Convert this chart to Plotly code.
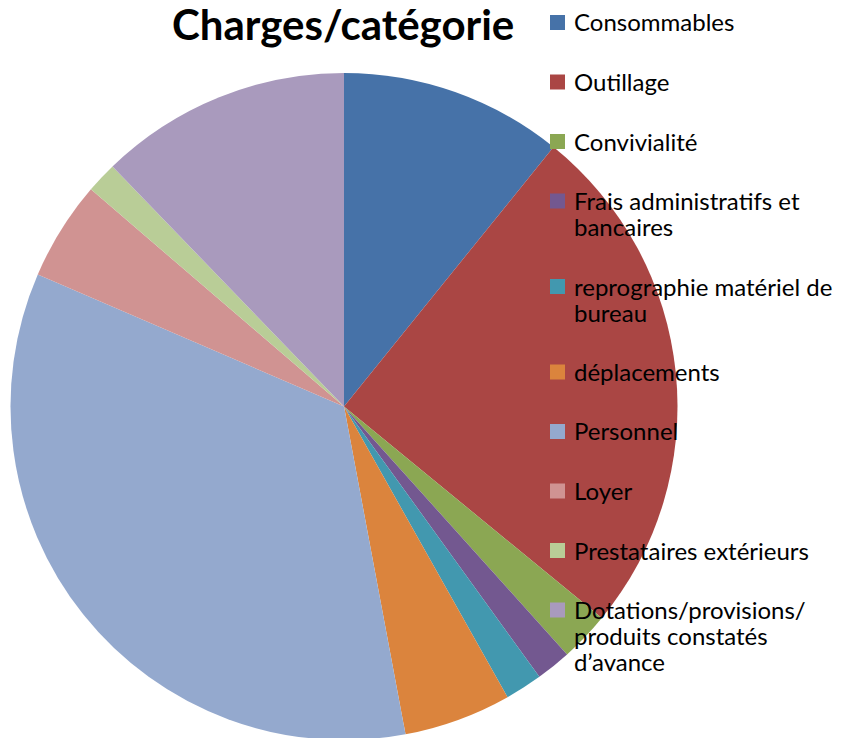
import plotly.graph_objects as go

W, H = 842, 738
OFF = 8  # default page body margin of the html file

labels = [
    "Consommables",
    "Outillage",
    "Convivialité",
    "Frais administratifs et bancaires",
    "reprographie matériel de bureau",
    "déplacements",
    "Personnel",
    "Loyer",
    "Prestataires extérieurs",
    "Dotations/provisions/ produits constatés d’avance",
]
legend_lines = [
    ["Consommables"],
    ["Outillage"],
    ["Convivialité"],
    ["Frais administratifs et", "bancaires"],
    ["reprographie matériel de", "bureau"],
    ["déplacements"],
    ["Personnel"],
    ["Loyer"],
    ["Prestataires extérieurs"],
    ["Dotations/provisions/", "produits constatés", "d’avance"],
]
values = [10.8, 25.1, 2.4, 1.7, 1.8, 5.2, 34.4, 4.8, 1.5, 12.2]
colors = ["#4672A8", "#AA4644", "#8BA753", "#735890", "#4298AF",
          "#DB843D", "#94A9CE", "#D09392", "#B9CD97", "#A99ABD"]

FONT = "Lato"


def px2x(p):
    return (p - OFF) / W


def px2y(p):
    return 1 - (p - OFF) / H


fig = go.Figure()
fig.add_trace(go.Pie(
    labels=labels,
    values=values,
    sort=False,
    direction="clockwise",
    rotation=0,
    textinfo="none",
    hoverinfo="label+percent",
    marker=dict(colors=colors, line=dict(width=0)),
    domain=dict(x=[px2x(10.5), px2x(677.5)], y=[px2y(740), px2y(73)]),
    showlegend=False,
))

shapes = []
annotations = []

# custom legend (text + colour squares)
y = 22.0
line_h = 26.0   # = 20px * 1.3 line spacing
gap = 33.5
for lines, col in zip(legend_lines, colors):
    shapes.append(dict(
        type="rect", xref="paper", yref="paper",
        x0=px2x(550), x1=px2x(565), y0=px2y(y - 7), y1=px2y(y + 8),
        fillcolor=col, line=dict(width=0),
    ))
    txt = "<br>".join(f"<span style='font-size:24px'>{t}</span>" for t in lines)
    annotations.append(dict(
        text=txt, xref="paper", yref="paper", align="left",
        x=px2x(572), y=px2y(y + (len(lines) - 1) * line_h / 2),
        xanchor="left", yanchor="middle", showarrow=False,
        font=dict(family=FONT, size=20, color="#000000"),
    ))
    y += len(lines) * line_h + gap

# title
annotations.append(dict(
    text="<b>Charges/catégorie</b>", xref="paper", yref="paper",
    x=px2x(342.5), y=px2y(24), xanchor="center", yanchor="middle",
    showarrow=False,
    font=dict(family=FONT, size=42, color="#000000"),
))

fig.update_layout(
    width=W, height=H, autosize=False,
    margin=dict(l=0, r=0, t=0, b=0),
    paper_bgcolor="white", plot_bgcolor="white",
    shapes=shapes, annotations=annotations,
    showlegend=False,
)

fig.write_html("out.html")
